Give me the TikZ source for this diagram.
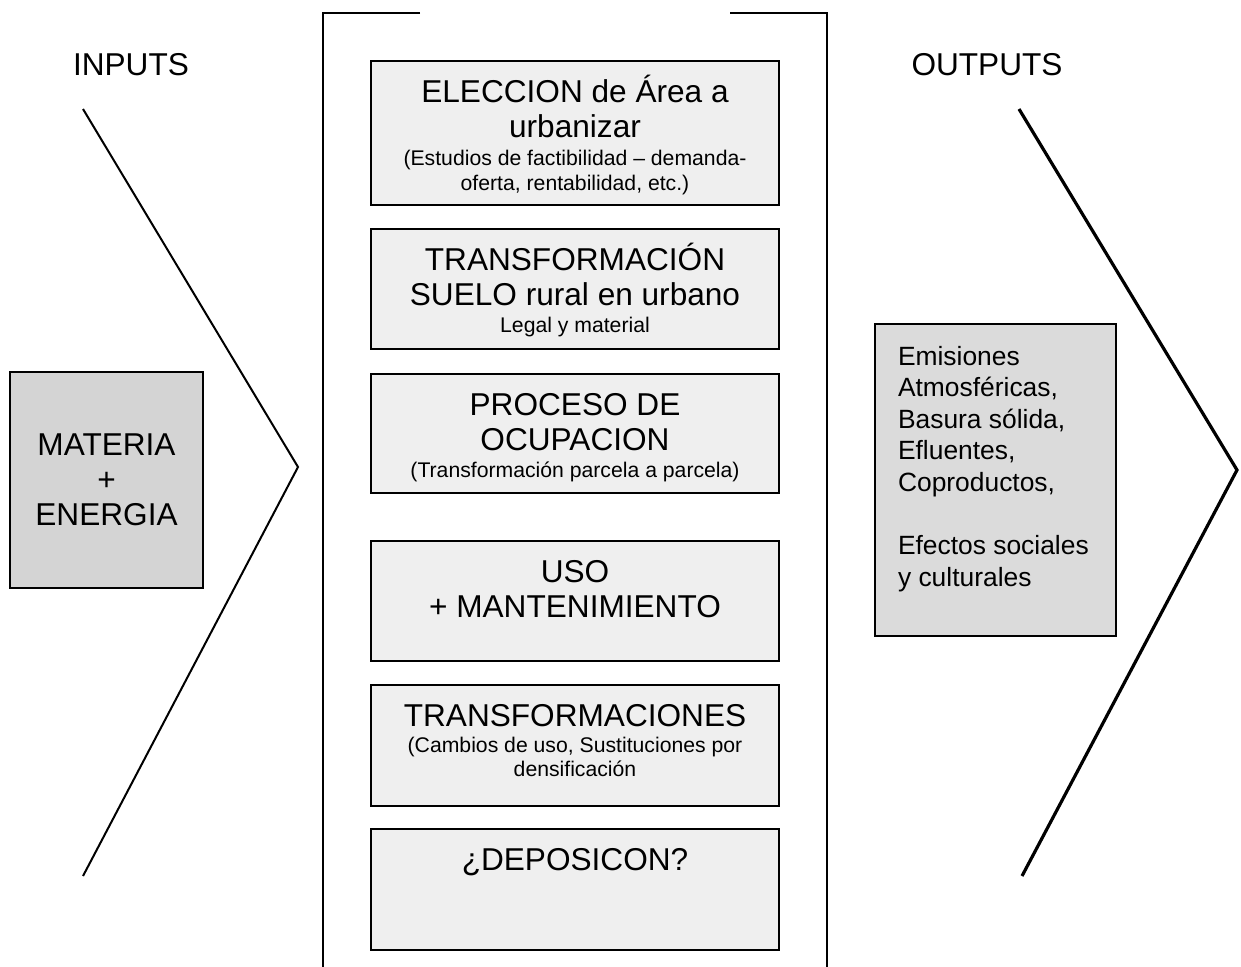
\documentclass[tikz,border=0pt]{standalone}
\usepackage{fontspec}
\setmainfont{Liberation Sans}
\usepackage{xcolor}
\usepackage{tikz}
\usetikzlibrary{calc,positioning}

\definecolor{stagegray}{HTML}{EFEFEF}
\definecolor{ingray}{HTML}{D4D4D4}
\definecolor{outgray}{HTML}{DBDBDB}
\newcommand{\bigtxt}{\fontsize{15.8}{17.6}\selectfont}
\newcommand{\smalltxt}{\fontsize{10.6}{12.2}\selectfont}
\newcommand{\stagetext}[2]{\parbox[t][#1][t]{204pt}{\centering\rule{0pt}{20.5pt}#2}}

\begin{document}
\begin{tikzpicture}[x=0.5pt,y=-0.5pt,
stagebox/.style={rectangle, draw=black, fill=stagegray, line width=1pt, inner sep=0pt},
inbox/.style={rectangle, draw=black, fill=ingray, line width=1pt, minimum width=96.5pt, minimum height=108pt, align=center, font=\bigtxt},
outbox/.style={rectangle, draw=black, fill=outgray, line width=1pt, inner sep=0pt},
headtxt/.style={font=\bigtxt, inner sep=0pt},
]
\useasboundingbox (0,0) rectangle (1241,966);
%Frame
\draw[line width=1pt] (420,13) -- (323,13) -- (323,970);
\draw[line width=1pt] (730,13) -- (827,13) -- (827,970);
%Chevrons
\draw[line width=1pt] (83,109) -- (298,467) -- (83,876);
\draw[line width=1.6pt] (1019,109) -- (1237,470) -- (1022,876);
%Nodes
\node[headtxt, anchor=base] (inputs) at (131,75) {INPUTS};
\node[headtxt, anchor=base] (outputs) at (987,75) {OUTPUTS};
\node[inbox] (materia) at (106.5,480) {MATERIA\\+\\ENERGIA};
\node[stagebox, anchor=north] (eleccion) at (575,60) {\stagetext{72pt}{{\bigtxt ELECCION de Área a\\urbanizar\par}{\smalltxt\vspace*{2pt}(Estudios de factibilidad – demanda-\\oferta, rentabilidad, etc.)\par}}};
\node[stagebox] (suelo) [below=11pt of eleccion] {\stagetext{60pt}{{\bigtxt TRANSFORMACIÓN\\SUELO rural en urbano\par}{\smalltxt\vspace*{1.5pt}Legal y material\par}}};
\node[stagebox] (ocupacion) [below=11.5pt of suelo] {\stagetext{59.5pt}{{\bigtxt PROCESO DE\\OCUPACION\par}{\smalltxt\vspace*{1.5pt}(Transformación parcela a parcela)\par}}};
\node[stagebox] (uso) [below=23pt of ocupacion] {\stagetext{60pt}{{\bigtxt USO\\+ MANTENIMIENTO\par}}};
\node[stagebox] (cambios) [below=11pt of uso] {\stagetext{60.5pt}{{\bigtxt TRANSFORMACIONES\par}{\smalltxt\vspace*{1pt}(Cambios de uso, Sustituciones por\\densificación\par}}};
\node[stagebox] (deposicion) [below=10.5pt of cambios] {\stagetext{60.5pt}{{\bigtxt ¿DEPOSICON?\par}}};
\node[outbox, anchor=north west] (residuos) at (874,323) {\parbox[t][156pt][t]{120.5pt}{\fontsize{13.2}{15.8}\selectfont\raggedright\leftskip=11.5pt
\rule{0pt}{20.5pt}Emisiones\\Atmosféricas,\\Basura sólida,\\Efluentes,\\Coproductos,\\[15.8pt]Efectos sociales\\y culturales\par}};
\end{tikzpicture}
\end{document}
